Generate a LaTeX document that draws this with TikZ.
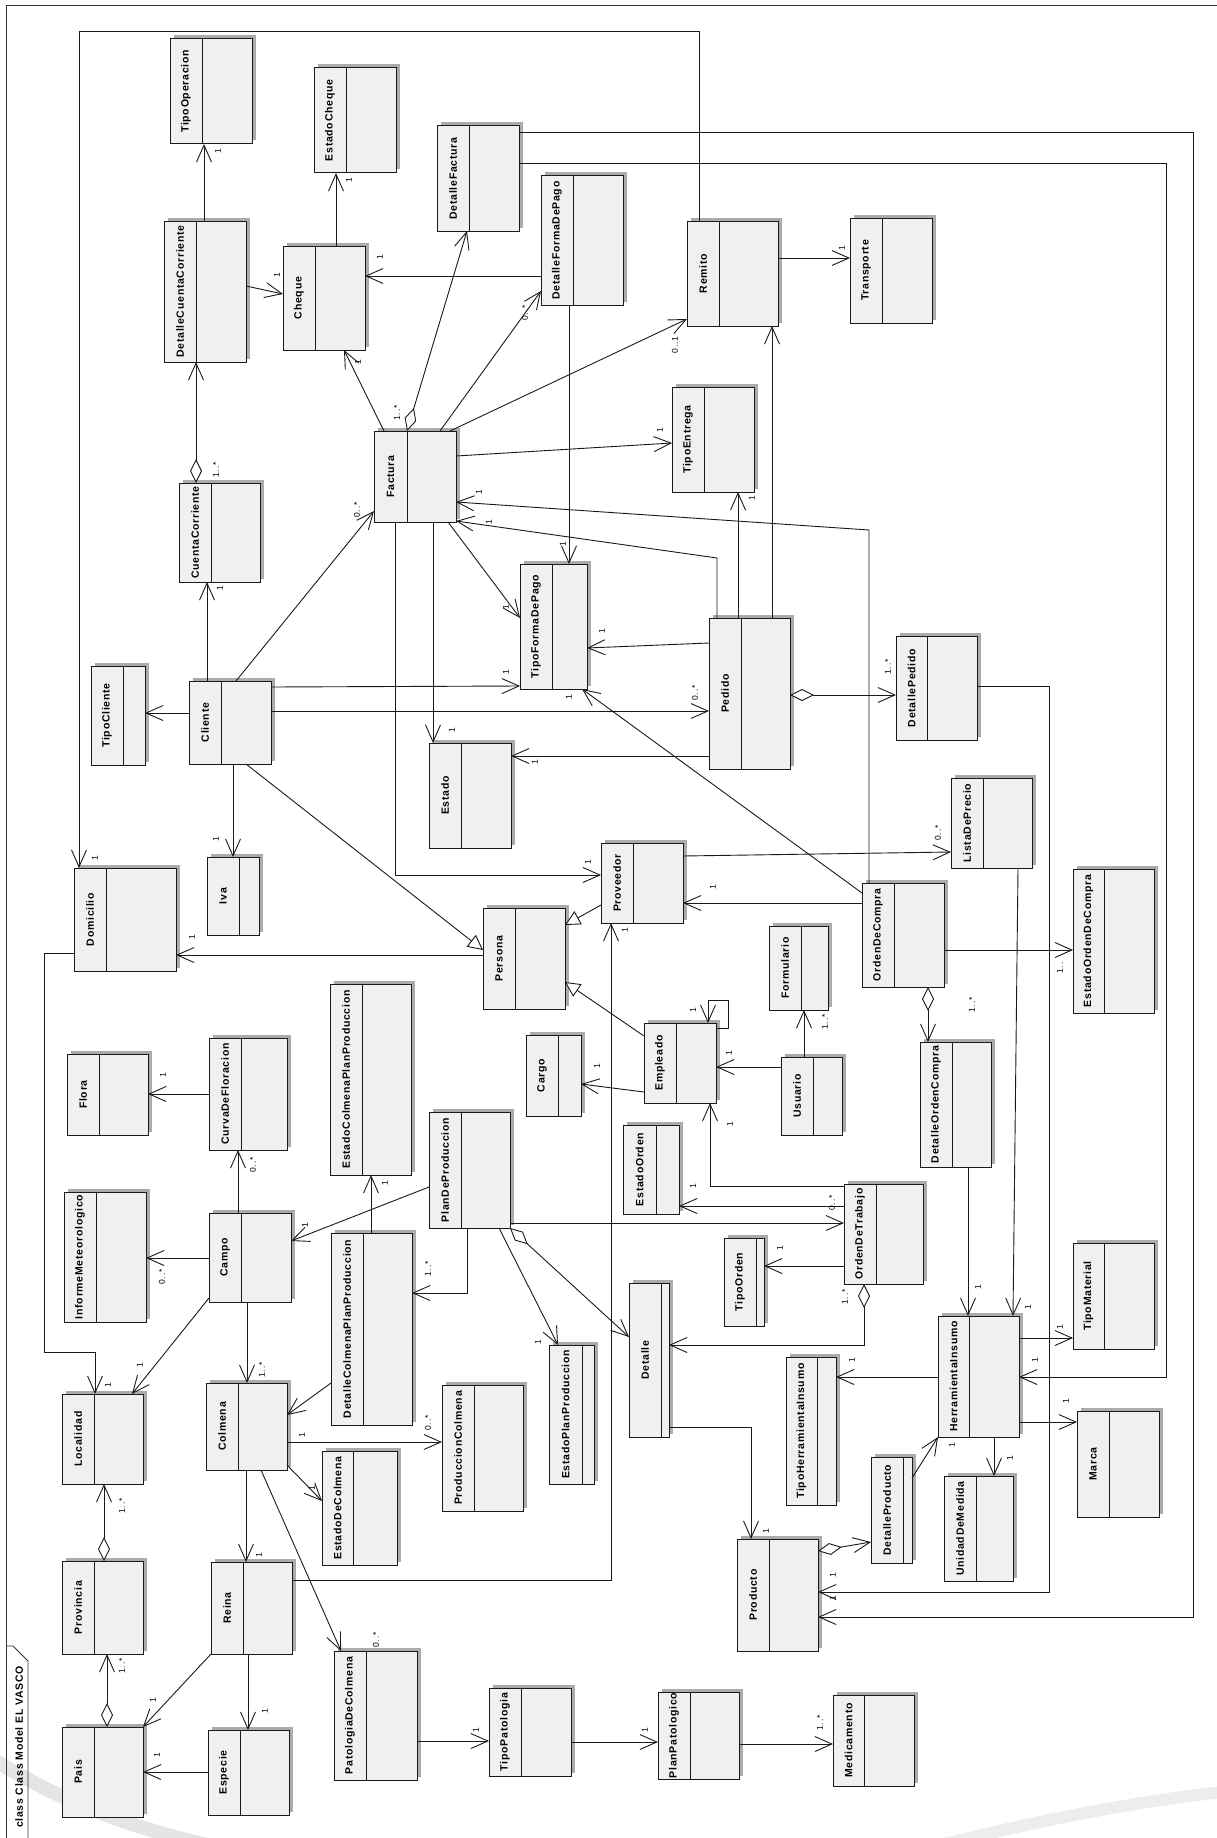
\documentclass[tikz,border=0pt]{standalone}
\usepackage{fontspec}
\usetikzlibrary{arrows.meta,shadows}
\newfontfamily\clsfont[LetterSpace=7]{Liberation Sans}
\newfontfamily\mulfont[LetterSpace=8]{Liberation Sans}
\definecolor{boxfill}{HTML}{F0F0F0}
\definecolor{shadowc}{HTML}{ABABAB}
\definecolor{linec}{HTML}{1A1A1A}
\tikzset{
 clsbox/.style={draw=linec, line width=1pt, fill=boxfill, rectangle, inner sep=0pt, outer sep=0pt,
   drop shadow={shadow xshift=3.5pt, shadow yshift=3.5pt, fill=shadowc, opacity=1}},
 clstext/.style={rotate=90, inner sep=0pt, font=\clsfont\bfseries\fontsize{10.5}{12}\selectfont},
 mult/.style={rotate=90, inner sep=0pt, font=\mulfont\fontsize{8.5}{10}\selectfont},
 conn/.style={draw=linec, line width=0.9pt},
 assoc/.style={conn, -{Straight Barb[length=17pt,width=15pt]}},
 aggr/.style={conn, {Diamond[fill=white,length=24pt,width=12pt]}-{Straight Barb[length=17pt,width=15pt]}},
 gen/.style={conn, -{Triangle[fill=white,length=15pt,width=15pt]}},
 framel/.style={draw=black!80, line width=0.9pt},
}
\newcounter{mlc}
\newcommand{\ml}[3]{\stepcounter{mlc}\node[mult] (ml\themlc) at (#1,#2) {#3};}
\newcommand{\cls}[7]{%
  \node[clsbox, anchor=north west, minimum width={(#4-#2)*1pt}, minimum height={(#5-#3)*1pt}] (#1) at (#2,#3) {};
  \draw[draw=linec, line width=1pt] (#1.north -| #6,0) -- (#1.south -| #6,0);
  \node[clstext] (#1-t) at ({(#2+#6)/2},{(#3+#5)/2}) {#7};
}
\begin{document}
\begin{tikzpicture}[x=1pt,y=-1pt]
\useasboundingbox (0,0) rectangle (1217,1838);
\clip (0,0) rectangle (1217,1838);
\fill[white] (0,0) rectangle (1217,1838);
% watermark swooshes
\draw[gray!20, line width=14pt, line cap=round] (-30,1745) .. controls (40,1790) and (110,1825) .. (230,1850);
\draw[gray!14, line width=12pt] (880,1860) .. controls (1000,1830) and (1100,1805) .. (1240,1790);
% frame
\draw[framel] (6,1850) -- (6,5) -- (1230,5);
\draw[framel] (6,1646) -- (13,1646) -- (28,1661) -- (28,1850);
\node[clstext, anchor=east] (title) at (19,1666) {class Class Model EL VASCO};
% classes
\cls{tipoop}{170}{39}{252}{144}{202}{TipoOperacion}
\cls{estcheque}{314}{68}{396}{173}{346}{EstadoCheque}
\cls{dcc}{164}{221}{246}{362}{196}{DetalleCuentaCorriente}
\cls{cheque}{283}{246}{365}{350}{315}{Cheque}
\cls{detfac}{437}{126}{519}{231}{469}{DetalleFactura}
\cls{dfp}{541}{176}{623}{305}{573}{DetalleFormaDePago}
\cls{remito}{687}{221}{778}{326}{719}{Remito}
\cls{transp}{850}{218}{932}{323}{882}{Transporte}
\cls{factura}{374}{431}{456}{522}{407}{Factura}
\cls{tipoent}{672}{387}{754}{492}{704}{TipoEntrega}
\cls{cc}{179}{483}{260}{582}{211}{CuentaCorriente}
\cls{tipocli}{91}{666}{145}{765}{123}{TipoCliente}
\cls{cliente}{189}{681}{271}{764}{221}{Cliente}
\cls{tfp}{520}{564}{587}{689}{552}{TipoFormaDePago}
\cls{pedido}{709}{618}{790}{769}{741}{Pedido}
\cls{estado}{429}{743}{511}{848}{461}{Estado}
\cls{detped}{896}{636}{977}{740}{927}{DetallePedido}
\cls{lista}{951}{778}{1032}{868}{983}{ListaDePrecio}
\cls{prov}{601}{843}{683}{923}{633}{Proveedor}
\cls{odc}{862}{883}{944}{987}{894}{OrdenDeCompra}
\cls{estodc}{1073}{869}{1154}{1013}{1104}{EstadoOrdenDeCompra}
\cls{domic}{74}{868}{176}{971}{106}{Domicilio}
\cls{iva}{207}{857}{259}{935}{239}{Iva}
\cls{persona}{483}{908}{565}{1009}{515}{Persona}
\cls{cargo}{526}{1035}{581}{1116}{558}{Cargo}
\cls{empleado}{644}{1023}{716}{1103}{676}{Empleado}
\cls{form}{769}{926}{828}{1010}{801}{Formulario}
\cls{usuario}{781}{1057}{842}{1135}{813}{Usuario}
\cls{doc}{920}{1042}{991}{1167}{952}{DetalleOrdenCompra}
\cls{ecpp}{330}{984}{411}{1175}{362}{EstadoColmenaPlanProduccion}
\cls{flora}{67}{1054}{148}{1135}{99}{Flora}
\cls{curva}{209}{1038}{287}{1150}{241}{CurvaDeFloracion}
\cls{informe}{64}{1192}{146}{1322}{96}{InformeMeteorologico}
\cls{campo}{209}{1213}{291}{1302}{241}{Campo}
\cls{pdp}{429}{1112}{510}{1228}{461}{PlanDeProduccion}
\cls{estord}{623}{1125}{679}{1214}{656}{EstadoOrden}
\cls{odt}{844}{1184}{923}{1284}{876}{OrdenDeTrabajo}
\cls{tipoord}{724}{1238}{764}{1326}{756}{TipoOrden}
\cls{dcpp}{331}{1233}{412}{1425}{363}{DetalleColmenaPlanProduccion}
\cls{tipomat}{1073}{1243}{1154}{1349}{1104}{TipoMaterial}
\cls{detalle}{629}{1283}{669}{1437}{661}{Detalle}
\cls{hi}{938}{1316}{1019}{1437}{969}{HerramientaInsumo}
\cls{epp}{549}{1345}{594}{1484}{582}{EstadoPlanProduccion}
\cls{thi}{786}{1357}{836}{1505}{817}{TipoHerramientaInsumo}
\cls{local}{62}{1394}{143}{1484}{94}{Localidad}
\cls{colmena}{206}{1383}{287}{1470}{238}{Colmena}
\cls{prodcol}{442}{1385}{523}{1511}{474}{ProduccionColmena}
\cls{edc}{322}{1451}{397}{1565}{353}{EstadoDeColmena}
\cls{marca}{1077}{1411}{1159}{1517}{1109}{Marca}
\cls{detprod}{871}{1457}{912}{1563}{903}{DetalleProducto}
\cls{udm}{944}{1476}{1013}{1581}{976}{UnidadDeMedida}
\cls{producto}{737}{1539}{818}{1651}{769}{Producto}
\cls{provincia}{62}{1561}{143}{1654}{94}{Provincia}
\cls{reina}{211}{1562}{292}{1654}{243}{Reina}
\cls{patol}{334}{1651}{417}{1780}{366}{PatologiaDeColmena}
\cls{pais}{62}{1727}{143}{1817}{94}{Pais}
\cls{especie}{208}{1730}{289}{1815}{240}{Especie}
\cls{tipopat}{489}{1688}{571}{1776}{521}{TipoPatologia}
\cls{planpat}{658}{1692}{739}{1779}{690}{PlanPatologico}
\cls{medic}{833}{1695}{914}{1786}{864}{Medicamento}
% connectors
\draw[assoc] (dcc.north -| 204,0) -- (tipoop.south -| 204,0);
\ml{218}{151}{1}
\draw[assoc] (cheque.north -| 336,0) -- (estcheque.south -| 336,0);
\ml{349}{180}{1}
\draw[assoc] (dcc.east |- 0,286) -- (cheque.west |- 0,294);
\ml{277}{275}{1}
\draw[assoc] (dfp.west |- 0,276) -- (cheque.east |- 0,276);
\ml{380}{257}{1}
\draw[assoc] (factura.north -| 384,0) -- (cheque.south -| 344,0);
\ml{358}{362}{1}
\draw[aggr] (factura.north -| 407,0) -- (detfac.south -| 467,0);
\ml{397}{413}{1..*}
\draw[assoc] (factura.north -| 440,0) -- (dfp.west |- 0,291);
\ml{525}{313}{0..*}
\draw[assoc] (factura.north -| 450,0) -- (remito.west |- 0,319);
\ml{675}{345}{0..1}
\draw[assoc] (remito.east |- 0,258) -- (transp.west |- 0,258);
\ml{842}{248}{1}
\draw[assoc] (pedido.north -| 772,0) -- (remito.south -| 772,0);
\draw[assoc] (factura.east |- 0,456) -- (tipoent.west |- 0,443);
\ml{660}{430}{1}
\draw[assoc] (remito.north -| 699,0) -- (699,31) -- (79,31) -- (domic.north -| 79,0);
\ml{95}{858}{1}
\draw[aggr] (cc.north -| 196,0) -- (dcc.south -| 196,0);
\ml{216}{470}{1..*}
\draw[assoc] (cliente.north -| 207,0) -- (cc.south -| 207,0);
\ml{220}{588}{1}
\draw[assoc] (cliente.west |- 0,713) -- (tipocli.east |- 0,713);
\draw[assoc] (cliente.north -| 236,0) -- (factura.west |- 0,511);
\ml{357}{510}{0..*}
\draw[assoc] (factura.south -| 395,0) -- (395,875) -- (prov.west |- 0,875);
\ml{588}{862}{1}
\draw[assoc] (cliente.east |- 0,687) -- (tfp.west |- 0,686);
\ml{506}{672}{1}
\draw[assoc] (cliente.east |- 0,711) -- (pedido.west |- 0,711);
\ml{695}{693}{0..*}
\draw[assoc] (cliente.south -| 233,0) -- (iva.north -| 233,0);
\ml{216}{839}{1}
\draw[gen] (cliente.south -| 246,0) -- (persona.west |- 0,950);
\draw[assoc] (factura.south -| 448,0) -- (tfp.west |- 0,618);
\ml{506}{607}{1}
\draw[assoc] (dfp.south -| 569,0) -- (tfp.north -| 569,0);
\ml{563}{544}{1}
\draw[assoc] (pedido.north -| 717,0) -- (717,558) -- (factura.east |- 0,521);
\ml{489}{522}{1}
\draw[assoc] (odc.north -| 869,0) -- (869,530) -- (factura.east |- 0,502);
\ml{479}{492}{1}
\draw[assoc] (pedido.north -| 738,0) -- (tipoent.south -| 738,0);
\ml{752}{498}{1}
\draw[assoc] (pedido.west |- 0,643) -- (tfp.east |- 0,648);
\ml{602}{631}{1}
\draw[assoc] (odc.west |- 0,893) -- (tfp.south -| 582,0);
\ml{569}{697}{1}
\draw[assoc] (factura.south -| 433,0) -- (estado.north -| 433,0);
\ml{452}{730}{1}
\draw[assoc] (pedido.west |- 0,756) -- (estado.east |- 0,756);
\ml{535}{762}{1}
\draw[aggr] (pedido.east |- 0,695) -- (detped.west |- 0,695);
\ml{888}{667}{1..*}
\draw[assoc] (detped.east |- 0,686) -- (1049,686) -- (1049,1592) -- (producto.east |- 0,1592);
\ml{833}{1575}{1}
\draw[assoc] (prov.east |- 0,856) -- (lista.west |- 0,852);
\ml{938}{833}{0..*}
\draw[assoc] (odc.west |- 0,903) -- (prov.east |- 0,903);
\ml{713}{887}{1}
\draw[gen] (prov.west |- 0,905) -- (persona.east |- 0,925);
\draw[gen] (empleado.west |- 0,1036) -- (persona.east |- 0,982);
\draw[assoc] (odc.east |- 0,950) -- (estodc.west |- 0,950);
\ml{1060}{968}{1..}
\draw[aggr] (odc.south -| 928,0) -- (doc.north -| 928,0);
\ml{972}{1005}{1..*}
\draw[assoc] (doc.south -| 968,0) -- (hi.north -| 968,0);
\ml{978}{1287}{1}
\draw[assoc] (lista.south -| 1018,0) -- (hi.north -| 1013,0);
\ml{1028}{1307}{1}
\draw[assoc] (detfac.east |- 0,163) -- (1166,163) -- (1166,1377) -- (hi.east |- 0,1377);
\ml{1035}{1360}{1}
\draw[assoc] (detfac.east |- 0,132) -- (1193,132) -- (1193,1617) -- (producto.east |- 0,1617);
\ml{833}{1598}{1}
\draw[assoc] (persona.west |- 0,955) -- (domic.east |- 0,955);
\ml{192}{937}{1}
\draw[assoc] (domic.west |- 0,953) -- (44,953) -- (44,1352) -- (95,1352) -- (local.north -| 95,0);
\ml{108}{1385}{1}
\draw[assoc] (reina.east |- 0,1580) -- (611,1580) -- (prov.south -| 611,0);
\ml{625}{930}{1}
\draw[assoc] (empleado.west |- 0,1092) -- (cargo.east |- 0,1084);
\ml{597}{1066}{1}
\draw[assoc] (empleado.east |- 0,1028) -- (728,1028) -- (728,1000) -- (708,1000) -- (empleado.north -| 708,0);
\ml{693}{1010}{1}
\draw[assoc] (usuario.west |- 0,1067) -- (empleado.east |- 0,1067);
\ml{729}{1053}{1}
\draw[assoc] (usuario.north -| 804,0) -- (form.south -| 804,0);
\ml{825}{1022}{1..*}
\draw[assoc] (odt.west |- 0,1186) -- (710,1186) -- (empleado.south -| 710,0);
\ml{730}{1124}{1}
\draw[assoc] (odt.west |- 0,1206) -- (estord.east |- 0,1206);
\ml{693}{1186}{1}
\draw[assoc] (pdp.east |- 0,1223) -- (odt.west |- 0,1223);
\ml{832}{1203}{0..*}
\draw[assoc] (odt.west |- 0,1266) -- (tipoord.east |- 0,1266);
\ml{780}{1248}{1}
\draw[aggr] (odt.south -| 864,0) -- (864,1345) -- (detalle.east |- 0,1345);
\ml{845}{1297}{1..*}
\draw[assoc] (pdp.west |- 0,1187) -- (campo.east |- 0,1241);
\ml{305}{1225}{1}
\draw[assoc] (pdp.south -| 467,0) -- (467,1293) -- (dcpp.east |- 0,1293);
\ml{428}{1269}{1..*}
\draw[assoc] (pdp.south -| 499,0) -- (epp.north -| 558,0);
\ml{538}{1342}{1}
\draw[aggr] (pdp.south east) -- (detalle.west |- 0,1337);
\draw[assoc] (detalle.east |- 0,1427) -- (751,1427) -- (producto.north -| 751,0);
\ml{766}{1531}{1}
\draw[assoc] (curva.west |- 0,1094) -- (flora.east |- 0,1094);
\ml{163}{1075}{1}
\draw[assoc] (campo.north -| 238,0) -- (curva.south -| 238,0);
\ml{253}{1165}{0..*}
\draw[assoc] (campo.west |- 0,1258) -- (informe.east |- 0,1258);
\ml{162}{1277}{0..*}
\draw[assoc] (dcpp.north -| 371,0) -- (ecpp.south -| 371,0);
\ml{385}{1183}{1}
\draw[assoc] (campo.west |- 0,1298) -- (local.north -| 132,0);
\ml{140}{1365}{1}
\draw[assoc] (campo.south -| 247,0) -- (colmena.north -| 247,0);
\ml{262}{1370}{1..*}
\draw[assoc] (dcpp.west |- 0,1383) -- (colmena.east |- 0,1415);
\draw[assoc] (colmena.east |- 0,1442) -- (prodcol.west |- 0,1442);
\ml{302}{1435}{1}
\ml{428}{1423}{0..*}
\draw[assoc] (colmena.east |- 0,1465) -- (edc.west |- 0,1501);
\ml{312}{1488}{1}
\draw[assoc] (colmena.south -| 246,0) -- (reina.north -| 246,0);
\ml{259}{1555}{1}
\draw[assoc] (colmena.south -| 261,0) -- (patol.north -| 341,0);
\ml{376}{1640}{0..*}
\draw[assoc] (reina.south west) -- (pais.north east);
\ml{153}{1700}{1}
\draw[assoc] (reina.south -| 248,0) -- (especie.north -| 248,0);
\ml{265}{1711}{1}
\draw[assoc] (especie.west |- 0,1772) -- (pais.east |- 0,1772);
\ml{157}{1755}{1}
\draw[aggr] (provincia.north -| 104,0) -- (local.south -| 104,0);
\ml{122}{1506}{1..*}
\draw[aggr] (pais.north -| 107,0) -- (provincia.south -| 107,0);
\ml{122}{1666}{1..*}
\draw[assoc] (patol.east |- 0,1741) -- (tipopat.west |- 0,1741);
\ml{476}{1730}{1}
\draw[assoc] (tipopat.east |- 0,1742) -- (planpat.west |- 0,1742);
\ml{645}{1730}{1}
\draw[assoc] (planpat.east |- 0,1744) -- (medic.west |- 0,1744);
\ml{820}{1723}{1..*}
\draw[assoc] (hi.east |- 0,1338) -- (tipomat.west |- 0,1338);
\ml{1060}{1327}{1}
\draw[assoc] (hi.west |- 0,1377) -- (thi.east |- 0,1377);
\ml{852}{1360}{1}
\draw[assoc] (hi.east |- 0,1422) -- (marca.west |- 0,1422);
\ml{1066}{1401}{1}
\draw[assoc] (hi.south -| 994,0) -- (udm.north -| 994,0);
\ml{1010}{1458}{1}
\draw[assoc] (detprod.east |- 0,1478) -- (hi.south west);
\ml{952}{1445}{1}
\draw[aggr] (producto.east |- 0,1551) -- (detprod.west |- 0,1542);
\end{tikzpicture}
\end{document}
